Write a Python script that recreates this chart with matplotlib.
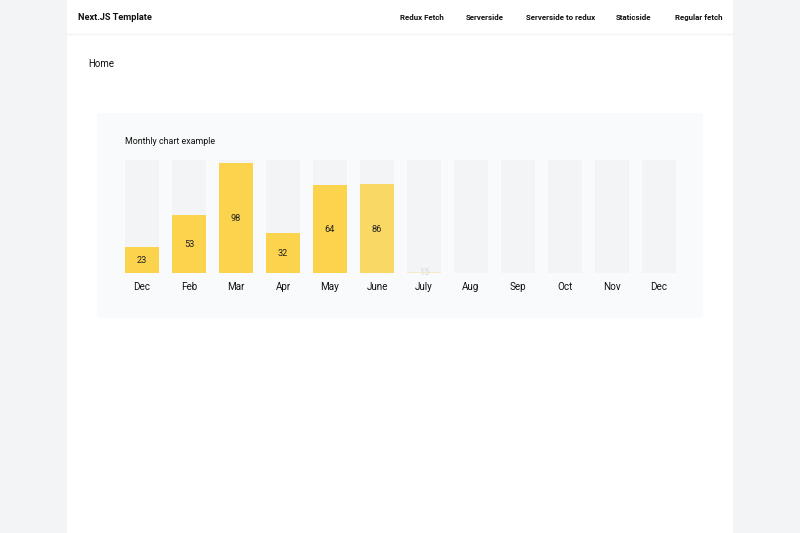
import matplotlib.pyplot as plt
from matplotlib.patches import Rectangle, FancyBboxPatch

# data
months = ["Dec", "Feb", "Mar", "Apr", "May", "June", "July",
          "Aug", "Sep", "Oct", "Nov", "Dec"]
values = [23, 53, 98, 32, 64, 86, 15]          # labels shown on the bars
fill_pct = [23, 51, 97, 35, 78, 79, 1]         # bar heights as drawn (animation in progress)
bar_alpha = [1.0, 1.0, 1.0, 1.0, 1.0, 0.85, 0.25]
nav_items = ["Redux Fetch", "Serverside", "Serverside to redux", "Staticside", "Regular fetch"]
nav_x = [422, 485, 561, 634, 699]

W, H = 800, 533
plt.rcParams['font.family'] = ['Roboto', 'DejaVu Sans']

fig = plt.figure(figsize=(W / 100, H / 100), dpi=100)
fig.patch.set_facecolor("#f3f4f6")

# page layer in pixel coordinates
page = fig.add_axes([0, 0, 1, 1])
page.set_xlim(0, W)
page.set_ylim(H, 0)
page.axis("off")

page.add_patch(Rectangle((67, 0), 666, H, facecolor="white", edgecolor="none"))
page.plot([67, 733], [34, 34], color="#f1f2f4", lw=1)
page.add_patch(FancyBboxPatch((97, 113), 606, 205, boxstyle="round,pad=0,rounding_size=3",
                              facecolor="#f9fafb", edgecolor="none"))

page.text(78, 17, "Next.JS Template", fontsize=6.6, fontweight="bold",
          color="#111111", va="center_baseline", ha="left")
for label, x in zip(nav_items, nav_x):
    page.text(x, 17, label, fontsize=5.7, fontweight="bold", color="#111111",
              va="center_baseline", ha="center")
page.text(88, 64, "Home", fontsize=7.0, color="#111111", va="center", ha="left")
page.text(125, 142, "Monthly chart example", fontsize=6.4, color="#111111",
          va="center", ha="left")

# bar chart layer
x0, x1, y0, y1 = 125, 676, 160, 273
ax = fig.add_axes([x0 / W, 1 - y1 / H, (x1 - x0) / W, (y1 - y0) / H])
ax.set_facecolor("none")
pos = list(range(len(months)))
half = 0.3617
ax.set_xlim(-half, len(months) - 1 + half)
ax.set_ylim(0, 100)

ax.bar(pos, [100] * len(months), width=2 * half, color="#f3f4f6")
for i, (v, h, a) in enumerate(zip(values, fill_pct, bar_alpha)):
    ax.bar(i, h, width=2 * half, color="#fcd34d", alpha=a)
    ax.text(i, h / 2 - 0.6 if h > 5 else 0.5, str(v), ha="center", va="center",
            fontsize=6.6, color="#222222" if h > 5 else "#d8d8d8")

ax.set_xticks(pos)
ax.set_xticklabels(months, fontsize=7.1, color="#111111")
ax.tick_params(axis="x", length=0, pad=6.6)
ax.set_yticks([])
for s in ax.spines.values():
    s.set_visible(False)

fig.savefig("out.png", dpi=100, facecolor=fig.get_facecolor())
